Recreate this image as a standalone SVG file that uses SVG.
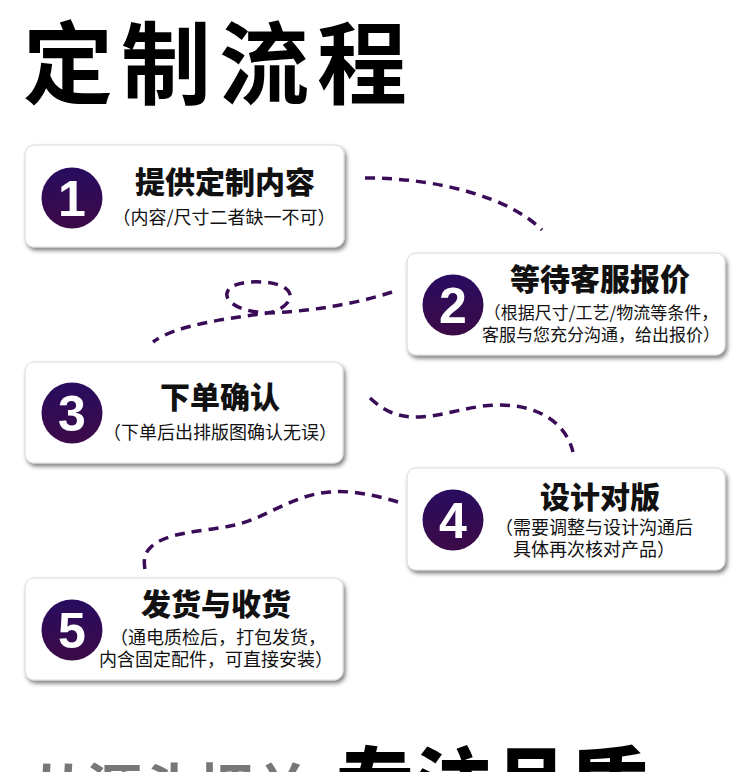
<svg xmlns="http://www.w3.org/2000/svg" width="750" height="772" viewBox="0 0 750 772">
<defs>
<linearGradient id="cg" x1="0" y1="0" x2="0" y2="1">
<stop offset="0" stop-color="#290c60"/>
<stop offset="1" stop-color="#3c0a47"/>
</linearGradient>
<filter id="sh" x="-10%" y="-10%" width="125%" height="135%">
<feDropShadow dx="2" dy="3" stdDeviation="2" flood-color="#000" flood-opacity="0.5"/>
</filter>
<style>
.card{fill:#fff;stroke:#d8d8d8;stroke-width:1;filter:url(#sh)}
.circ{fill:url(#cg)}
.num{font-family:"Liberation Sans",Arial,sans-serif;font-weight:bold;font-size:50px;fill:#fff;text-anchor:middle}
.t{font-family:"Noto Sans CJK SC",sans-serif;font-weight:900;font-size:30px;fill:#111;text-anchor:middle}
.s{font-family:"Noto Sans CJK SC",sans-serif;font-weight:400;font-size:18px;fill:#111;text-anchor:middle}
.s2{font-size:17px}
.dash{fill:none;stroke:#3a0c58;stroke-width:3.5;stroke-dasharray:10 7}
</style>
</defs>
<rect width="750" height="772" fill="#fff"/>
<text x="23" y="97" font-family="'Noto Sans CJK SC',sans-serif" font-weight="700" font-size="90" letter-spacing="8" fill="#000">定制流程</text>

<g id="connectors">
<path class="dash" d="M365,178 C440,178 510,198 542,230"/>
<path class="dash" d="M392,292 C350,306 300,312 268,313 C240,312 225,302 227,293 C229,283 250,281 262,282 C285,283 295,293 288,302 C282,310 272,312 268,313 C230,318 175,325 153,342"/>
<path class="dash" d="M370,398 C385,412 400,418 420,417 C445,416 470,405 500,405 C535,405 565,420 573,452"/>
<path class="dash" d="M398,502 C375,495 350,490 330,492 C290,495 265,520 230,526 C200,532 165,532 150,548 C143,555 144,563 145,570"/>
</g>

<g id="step1">
<rect class="card" x="25" y="145" width="319" height="102" rx="9"/>
<circle class="circ" cx="72" cy="198" r="30.5"/>
<text class="num" x="72" y="216">1</text>
<text class="t" x="225" y="193">提供定制内容</text>
<text class="s" x="224" y="224">（内容/尺寸二者缺一不可）</text>
</g>

<g id="step2">
<rect class="card" x="407" y="253" width="318" height="102" rx="9"/>
<circle class="circ" cx="453" cy="305" r="30.5"/>
<text class="num" x="453" y="323">2</text>
<text class="t" x="600" y="290">等待客服报价</text>
<text class="s s2" x="601" y="319">（根据尺寸/工艺/物流等条件，</text>
<text class="s s2" x="601" y="341">客服与您充分沟通，给出报价）</text>
</g>

<g id="step3">
<rect class="card" x="25" y="362" width="318" height="101" rx="9"/>
<circle class="circ" cx="72" cy="413" r="30.5"/>
<text class="num" x="72" y="431">3</text>
<text class="t" x="220" y="408">下单确认</text>
<text class="s" x="220" y="439">（下单后出排版图确认无误）</text>
</g>

<g id="step4">
<rect class="card" x="407" y="468" width="318" height="102" rx="9"/>
<circle class="circ" cx="453" cy="520" r="30.5"/>
<text class="num" x="453" y="538">4</text>
<text class="t" x="600" y="508">设计对版</text>
<text class="s" x="594" y="534">（需要调整与设计沟通后</text>
<text class="s" x="594" y="556">具体再次核对产品）</text>
</g>

<g id="step5">
<rect class="card" x="25" y="578" width="318" height="102" rx="9"/>
<circle class="circ" cx="72" cy="630" r="30.5"/>
<text class="num" x="72" y="648">5</text>
<text class="t" x="216" y="615">发货与收货</text>
<text class="s" x="218" y="644">（通电质检后，打包发货，</text>
<text class="s" x="216" y="666">内含固定配件，可直接安装）</text>
</g>

<text x="30" y="810" font-family="'Noto Sans CJK SC',sans-serif" font-weight="700" font-size="56" fill="#777">从源头把关</text>
<text x="336" y="813" font-family="'Noto Sans CJK SC',sans-serif" font-weight="900" font-size="78" fill="#000">专注品质</text>
</svg>
